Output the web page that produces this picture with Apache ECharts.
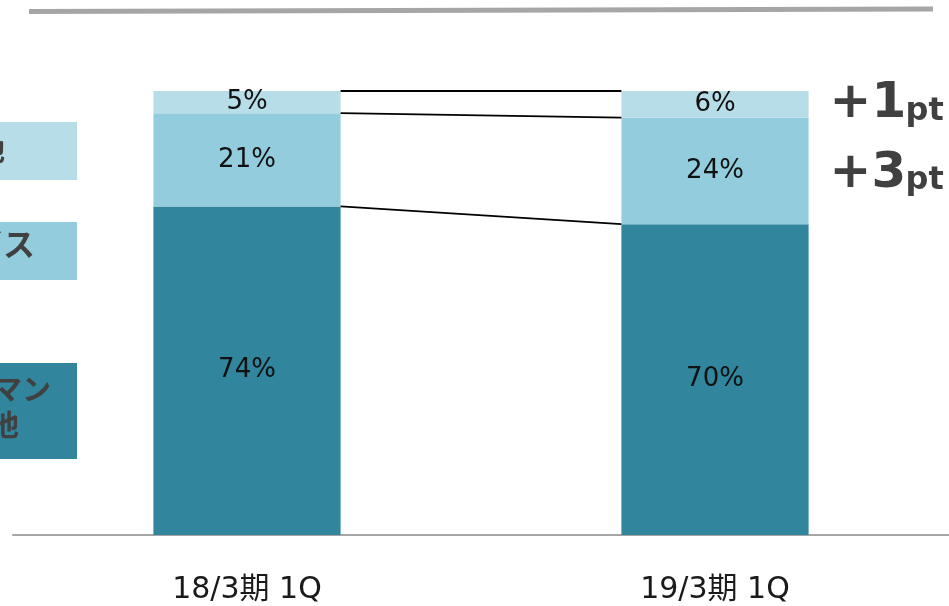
<!DOCTYPE html>
<html>
<head>
<meta charset="utf-8">
<script src="https://cdn.jsdelivr.net/npm/echarts@6/dist/echarts.min.js"></script>
<style>html,body{margin:0;padding:0;background:#fff}#c{width:949px;height:606px}</style>
</head>
<body>
<div id="c"></div>
<script>
const categories = ['18/3期 1Q', '19/3期 1Q'];
const seriesNames = ['ヒューマン・電池', 'サービス', 'その他'];
const bottomValues = [74, 70];
const middleValues = [21, 24];
const topValues = [5, 6];
const deltaLabels = ['+1', '+3'];
const deltaUnit = 'pt';

const colors = ['#31859c', '#93cddd', '#b7dee8'];

// boundaries between segments for connector lines: [leftValue, rightValue]
const connectors = [
  [bottomValues[0] + middleValues[0] + topValues[0], bottomValues[1] + middleValues[1] + topValues[1]],
  [bottomValues[0] + middleValues[0], bottomValues[1] + middleValues[1]],
  [bottomValues[0], bottomValues[1]]
];
// annotation anchors: center of changed segment in right bar
const annotations = [
  [1, bottomValues[1] + middleValues[1] + topValues[1] / 2, deltaLabels[0]],
  [1, bottomValues[1] + middleValues[1] / 2, deltaLabels[1]]
];

const chart = echarts.init(document.getElementById('c'));
const labelStyle = {show: true, position: 'inside', formatter: '{c}%', fontSize: 26, color: '#111', fontFamily: 'DejaVu Sans, Verdana, sans-serif'};
const mkBar = (name, data, color) => ({
  type: 'bar', name, data, stack: 'total', barWidth: '40%',
  itemStyle: {color}, label: labelStyle, silent: true
});

chart.setOption({
  animation: false,
  grid: {left: 13, right: 0, top: 91, bottom: 71},
  xAxis: {
    type: 'category', data: categories,
    axisLine: {lineStyle: {color: '#a6a6a6', width: 2}},
    axisTick: {show: false},
    axisLabel: {fontSize: 30, color: '#1a1a1a', margin: 40, fontFamily: 'DejaVu Sans, Noto Sans CJK JP, sans-serif'}
  },
  yAxis: {type: 'value', min: 0, max: 100, show: false, splitLine: {show: false}},
  series: [
    mkBar(seriesNames[0], bottomValues, colors[0]),
    mkBar(seriesNames[1], middleValues, colors[1]),
    mkBar(seriesNames[2], topValues, colors[2]),
    {
      type: 'custom', data: connectors, z: 5, silent: true,
      renderItem: function (params, api) {
        const hw = api.size([1, 0])[0] * 0.4 / 2;
        const p0 = api.coord([0, api.value(0)]);
        const p1 = api.coord([1, api.value(1)]);
        return {type: 'line', shape: {x1: p0[0] + hw, y1: p0[1], x2: p1[0] - hw, y2: p1[1]},
          style: {stroke: '#000', lineWidth: 1.8}};
      }
    },
    {
      type: 'custom', data: annotations, z: 6, silent: true,
      renderItem: function (params, api) {
        const hw = api.size([1, 0])[0] * 0.4 / 2;
        const p = api.coord([api.value(0), api.value(1)]);
        const x = p[0] + hw + 21;
        const y = p[1] + (params.dataIndex === 1 ? 3 : 0);
        const txt = annotations[params.dataIndex][2];
        return {type: 'group', children: [
          {type: 'text', style: {x: x, y: y, text: txt, fontSize: 50, fontWeight: 'bold', fill: '#404040',
            fontFamily: 'DejaVu Sans, Verdana, sans-serif', verticalAlign: 'middle', align: 'left'}},
          {type: 'text', style: {x: x + 76, y: y + 7, text: deltaUnit, fontSize: 32, fontWeight: 'bold', fill: '#404040',
            fontFamily: 'DejaVu Sans, Verdana, sans-serif', verticalAlign: 'middle', align: 'left'}}
        ]};
      }
    }
  ],
  graphic: [
    {type: 'line', shape: {x1: 29, y1: 11.5, x2: 933, y2: 9}, style: {stroke: '#a6a6a6', lineWidth: 5}},
    {type: 'rect', shape: {x: 0, y: 122, width: 77, height: 58}, style: {fill: colors[2]}},
    {type: 'rect', shape: {x: 0, y: 222, width: 77, height: 58}, style: {fill: colors[1]}},
    {type: 'rect', shape: {x: 0, y: 363, width: 77, height: 96}, style: {fill: colors[0]}},
    {type: 'text', style: {x: 5, y: 150, text: 'その他', align: 'right', verticalAlign: 'middle', fontSize: 28, fontWeight: 'bold', fill: '#404040', fontFamily: 'Noto Sans CJK JP'}},
    {type: 'text', style: {x: 35, y: 244, text: 'サービス', align: 'right', verticalAlign: 'middle', fontSize: 32, fontWeight: 'bold', fill: '#404040', fontFamily: 'Noto Sans CJK JP'}},
    {type: 'text', style: {x: 51, y: 389, text: 'ヒューマン', align: 'right', verticalAlign: 'middle', fontSize: 29, fontWeight: 'bold', fill: '#404040', fontFamily: 'Noto Sans CJK JP'}},
    {type: 'text', style: {x: 19, y: 425, text: '電池', align: 'right', verticalAlign: 'middle', fontSize: 29, fontWeight: 'bold', fill: '#404040', fontFamily: 'Noto Sans CJK JP'}}
  ]
});
</script>
</body>
</html>
